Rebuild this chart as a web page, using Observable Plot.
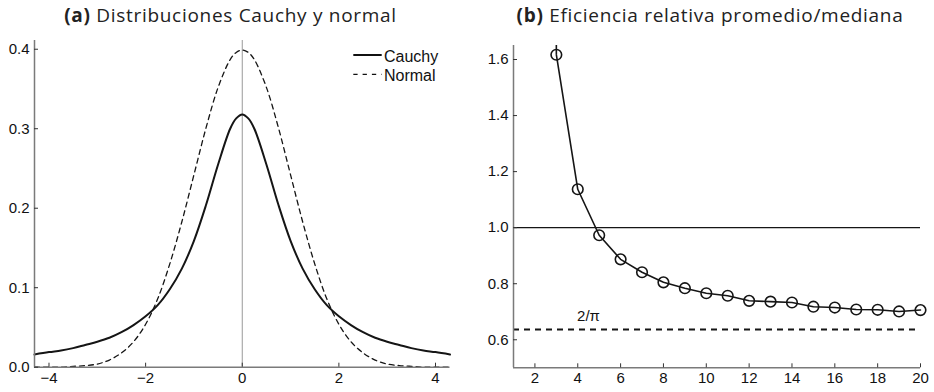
<!DOCTYPE html>
<html><head><meta charset="utf-8">
<script src="https://cdn.jsdelivr.net/npm/d3@7"></script>
<script src="https://cdn.jsdelivr.net/npm/@observablehq/plot@0.6"></script>
<style>
body{margin:0;background:#fff;}
#wrap{position:relative;width:934px;height:392px;overflow:hidden;}
.panel{position:absolute;top:0;height:392px;width:467px;}
.title{position:absolute;top:0;height:30px;line-height:30px;text-align:center;font-family:"Open Sans";font-size:19px;letter-spacing:0.7px;color:#222;white-space:nowrap;}
.title b{font-weight:700;}
.plot{position:absolute;top:30px;left:0;}
.legend{position:absolute;}
</style></head><body>
<div id="wrap">
 <div class="panel" id="pa" style="left:0">
   <div class="title" style="left:0;width:461px;"><b>(a)</b> Distribuciones Cauchy y normal</div>
   <div class="plot" id="plotA"></div>
   <svg class="legend" style="left:350px;top:45px" width="110" height="40" font-family="Liberation Sans" font-size="16">
     <line x1="3.3" x2="31.7" y1="10" y2="10" stroke="#111" stroke-width="2"></line>
     <line x1="3.3" x2="31.7" y1="29.3" y2="29.3" stroke="#111" stroke-width="1.3" stroke-dasharray="4.3,5"></line>
     <text id="legC" x="34" y="11.3" dominant-baseline="central" fill="#111"></text>
     <text id="legN" x="34" y="30.5" dominant-baseline="central" fill="#111"></text>
   </svg>
 </div>
 <div class="panel" id="pb" style="left:467px">
   <div class="title" style="left:19px;width:448px;"><b>(b)</b> Eficiencia relativa promedio/mediana</div>
   <div class="plot" id="plotB"></div>
 </div>
</div>
<script>
// ---- Panel (a): densities ----
const densityX = [-4.3,-4,-3.75,-3.5,-3.25,-3,-2.75,-2.5,-2.25,-2,-1.75,-1.5,-1.25,-1,-0.75,-0.5,-0.25,-0.125,0,
                  0.125,0.25,0.5,0.75,1,1.25,1.5,1.75,2,2.25,2.5,2.75,3,3.25,3.5,3.75,4,4.3];
const cauchyDensity = [0.016,0.019,0.021,0.024,0.028,0.032,0.037,0.044,0.053,0.064,0.078,0.098,0.124,0.159,0.204,0.255,0.300,0.313,0.318,
                       0.313,0.300,0.255,0.204,0.159,0.124,0.098,0.078,0.064,0.053,0.044,0.037,0.032,0.028,0.024,0.021,0.019,0.016];
const normalDensity = [0.000,0.000,0.000,0.001,0.002,0.004,0.009,0.018,0.032,0.054,0.086,0.130,0.183,0.242,0.301,0.352,0.387,0.396,0.399,
                       0.396,0.387,0.352,0.301,0.242,0.183,0.130,0.086,0.054,0.032,0.018,0.009,0.004,0.002,0.001,0.000,0.000,0.000];
const seriesNames = ["Cauchy","Normal"];
const xDomainA = [-4.3, 4.3];
const yDomainA = [0, 0.411];
const xTicksA = [-4,-2,0,2,4];
const yTicksA = [0,0.1,0.2,0.3,0.4];

// ---- Panel (b): relative efficiency mean/median ----
const nValues = [3,4,5,6,7,8,9,10,11,12,13,14,15,16,17,18,19,20];
const efficiency = [1.617,1.137,0.973,0.887,0.841,0.805,0.784,0.766,0.757,0.739,0.736,0.733,0.718,0.715,0.708,0.707,0.701,0.706];
const referenceOne = 1.0;
const twoOverPi = 0.6366;
const twoOverPiLabel = "2/π";
const xDomainB = [1, 20];
const yDomainB = [0.5, 1.65];
const xTicksB = [2,4,6,8,10,12,14,16,18,20];
const yTicksB = [0.6,0.8,1.0,1.2,1.4,1.6];

document.getElementById("legC").textContent = seriesNames[0];
document.getElementById("legN").textContent = seriesNames[1];

const ink = "#151515";
const axisGray = "#7a7a7a";
const fmt1 = d3.format(".1f");

const cauchyData = densityX.map((x,i)=>({x, y: cauchyDensity[i]}));
const normalData = densityX.map((x,i)=>({x, y: normalDensity[i]}));

function axesMarks(xDomain, yDomain, xTicks, yTicks, xFmt, yFmt){
  return [
    Plot.ruleY([yDomain[0]], {stroke: axisGray, strokeWidth: 1.5}),
    Plot.ruleX([xDomain[0]], {stroke: axisGray, strokeWidth: 1.5}),
    Plot.ruleX(xTicks, {x: d=>d, y1: yDomain[0], y2: yDomain[0], insetBottom: 4, stroke: "#333", strokeWidth: 1}),
    Plot.ruleY(yTicks, {y: d=>d, x1: xDomain[0], x2: xDomain[0], insetLeft: 4, stroke: "#333", strokeWidth: 1}),
    Plot.axisX({ticks: xTicks, tickSize: 0, tickPadding: 5, tickFormat: xFmt, fill: "#111", label: null}),
    Plot.axisY({ticks: yTicks, tickSize: 0, tickPadding: 5, tickFormat: yFmt, fill: "#111", label: null})
  ];
}

const plotA = Plot.plot({
  width: 467, height: 362,
  marginLeft: 34, marginRight: 17.5, marginTop: 10, marginBottom: 25.3,
  x: {domain: xDomainA, label: null}, y: {domain: yDomainA, label: null},
  style: {fontFamily: "Liberation Sans", fontSize: "15px", background: "transparent", color: "#111"},
  marks: [
    Plot.ruleX([0], {stroke: "#999", strokeWidth: 1}),
    Plot.line(normalData, {x: "x", y: "y", stroke: ink, strokeWidth: 1.3, strokeDasharray: "5,4", curve: "catmull-rom"}),
    Plot.line(cauchyData, {x: "x", y: "y", stroke: ink, strokeWidth: 2, curve: "catmull-rom"}),
    ...axesMarks(xDomainA, yDomainA, xTicksA, yTicksA, d=>d3.format("d")(d), fmt1)
  ]
});
document.getElementById("plotA").appendChild(plotA);

const effData = nValues.map((n,i)=>({n, v: efficiency[i]}));
const plotB = Plot.plot({
  width: 467, height: 362,
  marginLeft: 46, marginRight: 14, marginTop: 15, marginBottom: 24.7,
  x: {domain: xDomainB, label: null}, y: {domain: yDomainB, label: null},
  style: {fontFamily: "Liberation Sans", fontSize: "15px", background: "transparent", color: "#111"},
  marks: [
    Plot.ruleY([referenceOne], {stroke: ink, strokeWidth: 1.2}),
    Plot.ruleY([twoOverPi], {stroke: ink, strokeWidth: 1.8, strokeDasharray: "6,5"}),
    Plot.text([twoOverPiLabel], {x: 4.5, y: twoOverPi, text: d=>d, dy: -13, fill: "#111", fontSize: 15}),
    Plot.ruleX([nValues[0]], {x: d=>d, y1: efficiency[0], y2: yDomainB[1], stroke: ink, strokeWidth: 1.6}),
    Plot.line(effData, {x: "n", y: "v", stroke: ink, strokeWidth: 1.6}),
    Plot.dot(effData, {x: "n", y: "v", r: 5.3, stroke: ink, strokeWidth: 1.6, fill: "none"}),
    ...axesMarks(xDomainB, yDomainB, xTicksB, yTicksB, d=>d3.format("d")(d), fmt1)
  ]
});
document.getElementById("plotB").appendChild(plotB);
</script>
</body></html>
